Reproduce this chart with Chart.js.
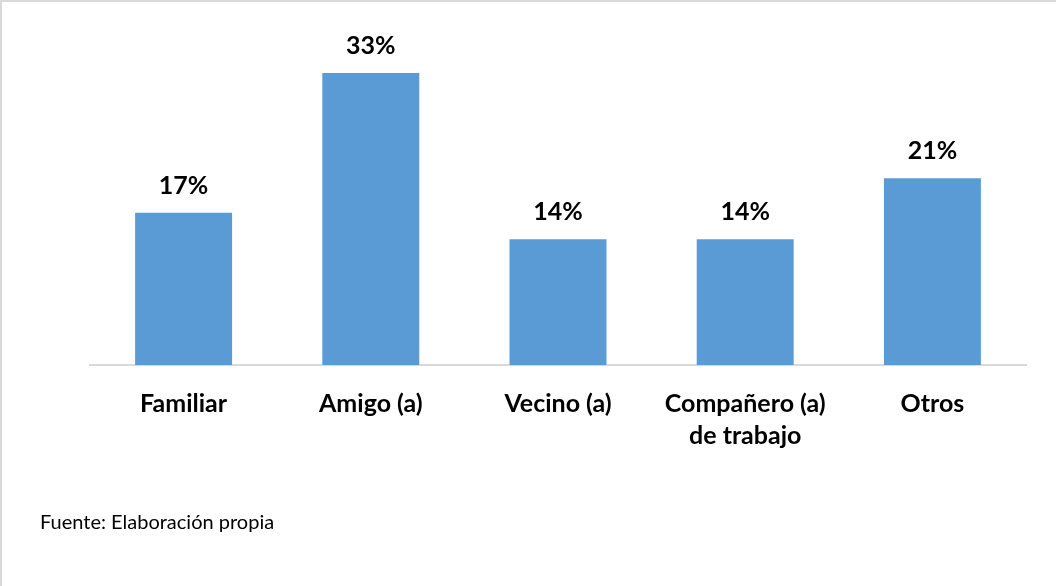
<!DOCTYPE html>
<html>
<head>
<meta charset="utf-8">
<script src="https://cdn.jsdelivr.net/npm/chart.js@4/dist/chart.umd.min.js"></script>
<style>
  body { margin: 0; background: #fff; }
  #wrap { position: relative; width: 1056px; height: 586px; overflow: hidden; background: #fff; }
  #myChart { position: absolute; left: 0; top: 0; }
  .edgeTop { position: absolute; left: 0; top: 0; width: 1056px; height: 2px; background: #d9d9d9; }
  .edgeLeft { position: absolute; left: 0; top: 0; width: 2px; height: 586px; background: #d9d9d9; }
  #source { position: absolute; left: 40px; top: 509px; font: 20px Lato, "Open Sans", sans-serif; line-height: 24px; color: #000; }
</style>
</head>
<body>
<div id="wrap">
  <canvas id="myChart" width="1056" height="586"></canvas>
  <div class="edgeTop"></div>
  <div class="edgeLeft"></div>
  <div id="source">Fuente: Elaboración propia</div>
</div>
<script>
// categories and values (percent)
const labels = ["Familiar", "Amigo (a)", "Vecino (a)", ["Compañero (a)", "de trabajo"], "Otros"];
const values = [17.2, 33.0, 14.2, 14.2, 21.1];

const barColor = "#5b9bd5";
const fontFamily = "Lato, 'Open Sans', sans-serif";

// writes the % above each bar
const valueLabels = {
  id: "valueLabels",
  afterDatasetsDraw(chart) {
    const ctx = chart.ctx;
    const meta = chart.getDatasetMeta(0);
    ctx.save();
    ctx.font = "bold 25px " + fontFamily;
    ctx.fillStyle = "#000";
    ctx.textAlign = "center";
    ctx.textBaseline = "middle";
    meta.data.forEach((bar, i) => {
      ctx.fillText(Math.round(values[i]) + "%", bar.x, bar.y - 27);
    });
    ctx.restore();
  }
};

const ctx = document.getElementById("myChart").getContext("2d");
const myChart = new Chart(ctx, {
  type: "bar",
  data: {
    labels: labels,
    datasets: [
      {
        data: values,
        backgroundColor: barColor,
        barPercentage: 0.518,
        categoryPercentage: 1,
      },
    ],
  },
  options: {
    responsive: false,
    animation: false,
    devicePixelRatio: 1,
    layout: {
      padding: { left: 90, right: 30, top: 11, bottom: 121 },
    },
    plugins: {
      legend: { display: false },
      tooltip: { enabled: false },
    },
    scales: {
      x: {
        grid: { display: false },
        border: { display: true, color: "#d9d9d9", width: 2 },
        ticks: {
          color: "#000",
          padding: 15,
          maxRotation: 0,
          autoSkip: false,
          font: { family: fontFamily, size: 25, weight: "bold", lineHeight: 1.28 },
        },
        afterFit: (scale) => {
          scale.height = 100;
        },
      },
      y: {
        display: false,
        min: 0,
        max: 40,
      },
    },
  },
  plugins: [valueLabels],
});
</script>
</body>
</html>
